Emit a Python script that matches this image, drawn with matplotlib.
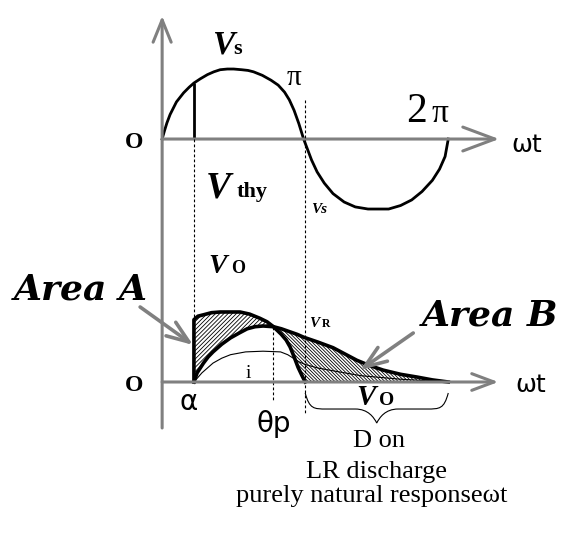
import numpy as np
import matplotlib
matplotlib.use('Agg')
import matplotlib.pyplot as plt
from matplotlib.path import Path
from matplotlib.patches import PathPatch

W, H = 581, 536

# angles in degrees, amplitudes normalised to the source peak
ALPHA = 40
THETA_P = 140
PI_DEG = 180
TWO_PI_DEG = 360

# source voltage (top trace)
theta_top = [0, 3, 6, 10, 18, 27, 34, 40, 48, 57, 65, 73, 82, 90, 100, 108,
             115, 126, 137, 146, 154, 160, 166, 172, 178,
             183, 188, 195, 204, 215, 229, 243, 259, 272, 285, 300, 314,
             327, 340, 349, 356, 360]
vs_top = [0, 0.12, 0.23, 0.35, 0.53, 0.66, 0.74, 0.80, 0.86, 0.92, 0.96, 0.99,
          1.0, 1.0, 0.99, 0.98, 0.96, 0.91, 0.84, 0.77, 0.67, 0.56, 0.41, 0.22, 0,
          -0.15, -0.30, -0.47, -0.63, -0.78, -0.90, -0.97, -1.0, -1.0, -1.0,
          -0.95, -0.87, -0.75, -0.59, -0.43, -0.25, 0]

# output voltage while thyristor conducts (bottom trace)
theta_vo = [40, 40, 45, 52, 62, 73, 85, 98, 110, 123, 132, 140,
            150, 156, 161, 166, 171, 176, 180]
vo = [0, 0.89, 0.94, 0.96, 0.99, 1.0, 1.0, 1.0, 0.97, 0.91, 0.86, 0.79,
      0.68, 0.60, 0.50, 0.36, 0.21, 0.09, 0]

# resistor voltage
theta_vr = [40, 44, 52, 58, 64, 75, 86, 97, 107, 117, 127, 140,
            150, 160, 170, 178, 196, 215, 230, 245, 260, 278, 300, 321, 340, 360]
vr = [0, 0.13, 0.27, 0.36, 0.43, 0.54, 0.63, 0.70, 0.76, 0.79, 0.80, 0.79,
      0.76, 0.72, 0.68, 0.64, 0.57, 0.49, 0.40, 0.31, 0.24, 0.17, 0.11, 0.07, 0.03, 0]

# load current
theta_i = [40, 50, 64, 75, 86, 105, 127, 149, 158, 165, 172, 180,
           196, 215, 250, 300, 360]
cur_i = [0, 0.13, 0.27, 0.34, 0.39, 0.43, 0.44, 0.43, 0.39, 0.34, 0.29, 0.25,
         0.20, 0.16, 0.09, 0.04, 0]

GRAY = '#808080'
SERIF = 'Liberation Serif'

fig = plt.figure(figsize=(W / 100, H / 100), dpi=100, facecolor='white')
ax_top = fig.add_axes([0, 0, 1, 1])
ax_bot = fig.add_axes([0, 0, 1, 1])
for a in (ax_top, ax_bot):
    a.set_xlim(-204, 527)
    a.axis('off')
    a.patch.set_alpha(0)
ax_top.set_ylim(-5.671, 1.986)
ax_bot.set_ylim(-2.2, 5.457)


def axis_arrow(ax, start, end, hl, hw, lw=2.2):
    ax.annotate('', xy=end, xytext=start,
                arrowprops=dict(arrowstyle=f'->,head_length={hl},head_width={hw}',
                                color=GRAY, lw=lw, shrinkA=0, shrinkB=0,
                                mutation_scale=10))


def label(x, y, s, **kw):
    fig.text(x / W, 1 - y / H, s, **kw)


# axes
axis_arrow(ax_bot, (0, -0.657), (0, 5.23), 1.6, 0.65)
axis_arrow(ax_top, (0, 0), (424, 0), 2.3, 0.86)
axis_arrow(ax_bot, (0, 0), (423, 0), 1.6, 0.6)

# top: source voltage and firing instant
ax_top.plot(theta_top, vs_top, color='black', lw=2.0, solid_joinstyle='round')
ax_top.vlines(ALPHA, 0, vs_top[theta_top.index(ALPHA)], color='black', lw=2.0)

# dashed guides
dash = dict(color='black', lw=0.8, linestyle=(0, (2.5, 2)))
ax_bot.plot([ALPHA, ALPHA], [3.471, 0], **dash)
ax_bot.plot([PI_DEG, PI_DEG], [4.03, -0.443], **dash)
ax_bot.plot([THETA_P, THETA_P], [0.79, -0.286], **dash)

# hatched areas
plt.rcParams['hatch.linewidth'] = 0.6
k_vo = theta_vo.index(THETA_P)
k_vr = theta_vr.index(THETA_P)
a_x = theta_vo[1:k_vo + 1] + theta_vr[k_vr::-1]
a_y = vo[1:k_vo + 1] + vr[k_vr::-1]
ax_bot.fill(a_x, a_y, facecolor='none', edgecolor='black', lw=0, hatch='////////')
b_x = theta_vr[k_vr:] + theta_vo[:k_vo - 1:-1]
b_y = vr[k_vr:] + vo[:k_vo - 1:-1]
ax_bot.fill(b_x, b_y, facecolor='none', edgecolor='black', lw=0, hatch='\\' * 10)

# bottom curves
ax_bot.plot(theta_i, cur_i, color='black', lw=0.8)
ax_bot.plot(theta_vr, vr, color='black', lw=2.6, solid_joinstyle='round')
ax_bot.plot(theta_vo, vo, color='black', lw=2.6, solid_joinstyle='round')

# brace under the freewheeling interval
x0, x1 = PI_DEG, TWO_PI_DEG
w = x1 - x0
xc = (x0 + x1) / 2
yt, ym, yb = -0.157, -0.386, -0.586
verts = [(x0, yt),
         (x0 + 0.03 * w, ym), (x0 + 0.06 * w, ym), (x0 + 0.15 * w, ym),
         (xc - 0.15 * w, ym),
         (xc - 0.06 * w, ym), (xc - 0.02 * w, yb + 0.08), (xc, yb),
         (xc + 0.02 * w, yb + 0.08), (xc + 0.06 * w, ym), (xc + 0.15 * w, ym),
         (x1 - 0.15 * w, ym),
         (x1 - 0.06 * w, ym), (x1 - 0.03 * w, ym), (x1, yt)]
codes = [Path.MOVETO] + [Path.CURVE4] * 3 + [Path.LINETO] + [Path.CURVE4] * 6 + \
        [Path.LINETO] + [Path.CURVE4] * 3
ax_bot.add_patch(PathPatch(Path(verts, codes), facecolor='none', edgecolor='black', lw=0.8))

# area arrows (pixel positions -> bottom axes data)
def to_bot(p):
    return ((p[0] - 162) / (286 / 360), (382 - p[1]) / 70)


for start, end in [((140, 307), (193, 345)), ((413, 333), (360, 370))]:
    ax_bot.annotate('', xy=to_bot(end), xytext=to_bot(start),
                    arrowprops=dict(arrowstyle='->,head_length=1.6,head_width=0.6',
                                    color=GRAY, lw=2.6, shrinkA=0, shrinkB=0,
                                    mutation_scale=10))

# texts
bi = dict(family=SERIF, weight='bold', style='italic', va='baseline', ha='left')
b = dict(family=SERIF, weight='bold', va='baseline', ha='left')
label(212, 54, 'V', fontsize=24, **bi)
label(233, 54, 's', fontsize=16, **b)
label(287, 85, 'π', fontsize=21, family=SERIF, va='baseline')
label(406, 122, '2', fontsize=30, family=SERIF, va='baseline')
label(432, 122, 'π', fontsize=24, family=SERIF, va='baseline')
label(511, 152, 'ωt', fontsize=18, family='DejaVu Sans', va='baseline')
label(515, 392, 'ωt', fontsize=18, family='DejaVu Sans', va='baseline')
label(125, 148, 'O', fontsize=17, **b)
label(125, 391, 'O', fontsize=17, **b)
label(206, 197, 'V', fontsize=27, **bi)
label(237, 197, 'thy', fontsize=16, **b)
label(311, 213, 'Vs', fontsize=11, **bi)
label(208, 273, 'V', fontsize=20, **bi)
label(231, 273, 'O', fontsize=13, **b)
label(309, 327, 'V', fontsize=11, **bi)
label(322, 327, 'R', fontsize=8.5, **b)
label(248, 378, 'i', fontsize=14, family=SERIF, ha='center', va='baseline')
label(356, 405, 'V', fontsize=21, **bi)
label(379, 405, 'O', fontsize=14, **b)
label(189, 410, 'α', fontsize=20, family='DejaVu Sans', ha='center', va='baseline')
label(256, 432, 'θp', fontsize=20, family='DejaVu Sans', va='baseline')
area = dict(family='DejaVu Serif', weight='bold', style='italic', fontsize=26,
            va='baseline', ha='left')
label(14, 299, 'Area A', **area)
label(422, 325, 'Area B', **area)
plain = dict(family=SERIF, fontsize=19, ha='center', va='baseline')
label(379, 447, 'D on', **plain)
label(377, 478, 'LR discharge', **plain)
label(372, 502, 'purely natural responseωt', **plain)

fig.savefig('out.png', dpi=100, facecolor='white')
